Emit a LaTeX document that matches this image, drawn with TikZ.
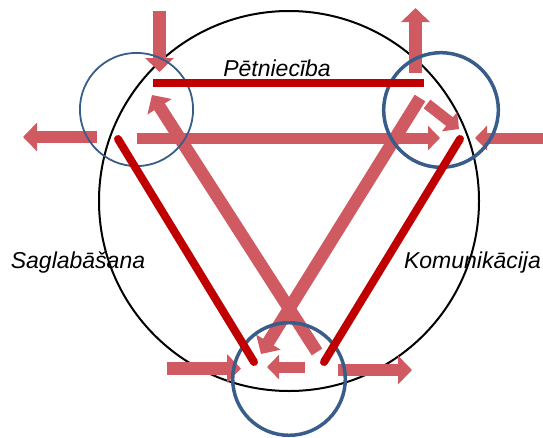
\documentclass[tikz,border=0pt]{standalone}
\usepackage{fontspec}
\setmainfont{Liberation Sans}
\usepackage{xcolor}
\usetikzlibrary{arrows.meta}
\definecolor{sidered}{RGB}{192, 0, 0}
\definecolor{flowred}{RGB}{207, 90, 97}
\definecolor{ringblue}{RGB}{56, 93, 138}
\tikzstyle{flowarrow} = [
    line width=12.5pt,
    -{Triangle[length=14pt, width=28pt]},
    color=flowred
]
\tikzstyle{smallhead} = [
    line width=11pt,
    -{Triangle[length=12pt, width=24pt]}
]
\tikzstyle{sideline} = [line width=8pt, color=sidered]
\tikzstyle{focusring} = [line width=3.5pt, draw=ringblue]
\tikzstyle{areatext} = [font=\fontsize{23}{27}\selectfont\itshape, anchor=base, inner sep=0pt]

\begin{document}
\begin{tikzpicture}[x=1pt, y=-1pt]
        \useasboundingbox (0, 0) rectangle (543, 437);

        % Outer circle
        \draw[line width=2pt] (289, 201) circle[radius=190pt];

        % Flows in and out
        \draw[flowarrow] (159.5, 11) -- (159.5, 72);
        \draw[flowarrow] (415.5, 73) -- (415.5, 8);
        \draw[flowarrow] (97, 137) -- (23, 137);
        \draw[flowarrow, smallhead] (137, 138) -- (440, 138);
        \draw[flowarrow, smallhead] (543, 138) -- (475, 138);
        \draw[flowarrow] (317, 352) -- (152, 95);
        \draw[flowarrow] (420, 98) -- (261, 354);
        \draw[flowarrow, smallhead] (427, 104) -- (459, 129);
        \draw[flowarrow] (167, 368.5) -- (241, 368.5);
        \draw[flowarrow, smallhead] (305, 367) -- (267, 367);
        \draw[flowarrow] (338, 370) -- (412, 370);

        % Rings at the corners
        \draw[focusring, line width=1.8pt] (136.5, 109.5) circle[radius=56.6pt];
        \draw[focusring] (441, 110) circle[radius=57.3pt];
        \draw[focusring] (289, 379) circle[radius=56.3pt];

        % Triangle sides
        \draw[sideline] (153, 83) -- (424, 83);
        \draw[sideline, line cap=round] (118, 139) -- (254, 362);
        \draw[sideline, line cap=round] (460, 139) -- (324, 362);

        % Labels
        \node[areatext] (research) at (277, 76) {Pētniecība};
        \node[areatext] (storage) at (78, 268) {Saglabāšana};
        \node[areatext] (communication) at (472.5, 268) {Komunikācija};
    \end{tikzpicture}
\end{document}
